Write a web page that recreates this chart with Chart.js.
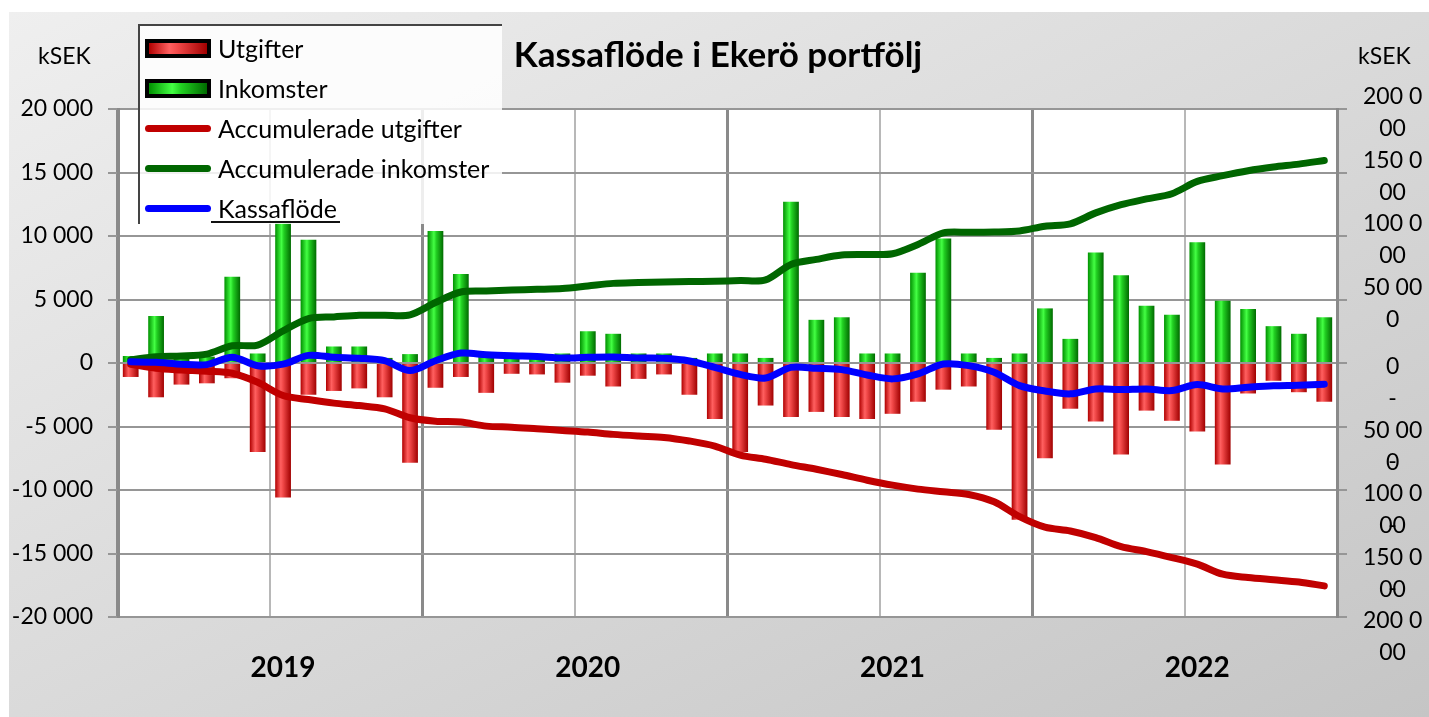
<!DOCTYPE html>
<html>
<head>
<meta charset="utf-8">
<script src="https://cdn.jsdelivr.net/npm/chart.js@4.4.1/dist/chart.umd.min.js"></script>
<style>
  html, body { margin: 0; padding: 0; background: #fff; }
  #wrap { position: relative; width: 1429px; height: 717px; overflow: hidden; font-family: Lato, sans-serif; }
  #bg { position: absolute; left: 9px; top: 12px; right: 0; bottom: 0; background: linear-gradient(to bottom right, #efefef, #c5c5c5); }
  #cashChart { position: absolute; left: 0; top: 0; }
  .txt { position: absolute; color: #000; font-size: 23px; line-height: 28px; white-space: nowrap; }
  #title { left: 718px; top: 33px; transform: translateX(-50%); font-weight: bold; font-size: 35px; line-height: 40px; }
  #legend { position: absolute; left: 138px; top: 24px; width: 362px; height: 198px; border-left: 2px solid #444; border-top: 2px solid #444; background: rgba(255,255,255,0.85); }
  .row { position: absolute; left: 5px; height: 40px; display: flex; align-items: center; }
  .sw { width: 66px; margin-right: 7px; box-sizing: border-box; flex: none; }
  .sw.bar { height: 19px; border: 4px solid #000; }
  .sw.line { height: 7px; border-radius: 4px; }
  .row span { font-size: 25px; }
  #uline { position: absolute; left: 211px; top: 221px; width: 129px; height: 2px; background: #111; }
</style>
</head>
<body>
<div id="wrap">
  <div id="bg"></div>
  <canvas id="cashChart" width="1429" height="717"></canvas>
  <div class="txt" id="title">Kassaflöde i Ekerö portfölj</div>
  <div class="txt" style="left:38px;top:41px;">kSEK</div>
  <div class="txt" style="left:1358px;top:41px;">kSEK</div>
  <div id="legend"></div>
  <div id="uline"></div>
</div>
<script>
const years = ['2019', '2020', '2021', '2022'];
const months = [];
years.forEach(y => {
  for (let m = 1; m <= 12; m++) months.push(y + '-' + String(m).padStart(2, '0'));
});

// kSEK per month
const utgifter = [
  -1100, -2700, -1700, -1600, -1200, -7000, -10600, -2500, -2200, -2000, -2700, -7850,
  -1950, -1100, -2350, -850, -900, -1550, -1000, -1850, -1250, -900, -2500, -4400,
  -7000, -3350, -4250, -3850, -4250, -4400, -4000, -3050, -2100, -1850, -5250, -12350,
  -7500, -3600, -4600, -7200, -3750, -4550, -5400, -8000, -2400, -1400, -2300, -3050
];
const inkomster = [
  550, 3700, 400, 500, 6800, 750, 11200, 9700, 1300, 1300, 400, 700,
  10400, 7000, 600, 700, 500, 750, 2500, 2300, 750, 750, 400, 750,
  750, 400, 12700, 3400, 3600, 750, 750, 7100, 9800, 750, 400, 750,
  4300, 1900, 8700, 6900, 4500, 3800, 9500, 4900, 4250, 2900, 2300, 3600
];
// right axis
const accUtgifter = [
  -1000, -4200, -5500, -6500, -8100, -15200, -25600, -28800, -31600, -33500, -36100, -43100,
  -45800, -46500, -49700, -50500, -51800, -53100, -54400, -56200, -57500, -58600, -61400, -65400,
  -72500, -75800, -80000, -83700, -87800, -92300, -96200, -99300, -101400, -103500, -109300, -121000,
  -129300, -132300, -137500, -144600, -148500, -153200, -158400, -166300, -168900, -170700, -172500, -175500
];
const accInkomster = [
  2500, 5000, 5500, 7000, 13600, 14100, 25300, 35000, 36300, 37600, 37600, 37900,
  47600, 55900, 56700, 57500, 58000, 58600, 60600, 62700, 63300, 63800, 64100, 64300,
  64900, 65400, 77600, 81600, 85000, 85400, 86000, 93300, 102500, 102900, 103100, 104000,
  107700, 109600, 118200, 124700, 129200, 133300, 143000, 147500, 151400, 154300, 156600, 159500
];
const kassaflode = [
  1000, 500, -1000, -1300, 4500, -2100, -900, 6000, 4500, 3700, 1800, -6000,
  1800, 7800, 6500, 5700, 5200, 3900, 4500, 4700, 3900, 3700, 1600, -3400,
  -9000, -11800, -3400, -4200, -5200, -9400, -12500, -8600, -800, -2100, -7300, -17800,
  -22000, -24300, -20400, -20900, -20400, -21700, -17000, -20400, -19100, -18000, -17500, -16700
];

const seriesNames = ['Utgifter', 'Inkomster', 'Accumulerade utgifter', 'Accumulerade inkomster', 'Kassaflöde'];
const seriesColors = ['#e02020', '#20c020', '#c00000', '#006600', '#0000ff'];

const leftTicks = [20000, 15000, 10000, 5000, 0, -5000, -10000, -15000, -20000];
const leftTickText = ['20 000', '15 000', '10 000', '5 000', '0', '-5 000', '-10 000', '-15 000', '-20 000'];
const rightTicks = [200000, 150000, 100000, 50000, 0, -50000, -100000, -150000, -200000];
const rightTickText = [
  ['200 0', '00'], ['150 0', '00'], ['100 0', '00'], ['50 00', '0'], '0',
  ['-', '50 00', '0'], ['-', '100 0', '00'], ['-', '150 0', '00'], ['-', '200 0', '00']
];

const BAR_PCT = 0.62;
const redStops = [[0, '#b00000'], [0.35, '#ff6060'], [0.5, '#f04848'], [1, '#a00000']];
const greenStops = [[0, '#009000'], [0.4, '#44ff44'], [0.55, '#22d022'], [1, '#006a00']];

function barGradient(c, stops) {
  const chart = c.chart;
  if (!chart.chartArea || c.dataIndex === undefined) return stops[1][1];
  const xs = chart.scales.x;
  const cx = xs.getPixelForValue(c.dataIndex);
  const w = xs.width / months.length * BAR_PCT;
  const g = chart.ctx.createLinearGradient(cx - w / 2, 0, cx + w / 2, 0);
  stops.forEach(s => g.addColorStop(s[0], s[1]));
  return g;
}

// legend
const legendEl = document.getElementById('legend');
seriesNames.forEach((name, i) => {
  const row = document.createElement('div');
  row.className = 'row';
  row.style.top = (4 + i * 40 - 2) + 'px';
  const sw = document.createElement('div');
  if (i < 2) {
    sw.className = 'sw bar';
    const st = i === 0 ? redStops : greenStops;
    sw.style.background = 'linear-gradient(to right,' + st.map(s => s[1] + ' ' + (s[0] * 100) + '%').join(',') + ')';
  } else {
    sw.className = 'sw line';
    sw.style.background = seriesColors[i];
  }
  const sp = document.createElement('span');
  sp.textContent = name;
  row.appendChild(sw);
  row.appendChild(sp);
  legendEl.appendChild(row);
});

const plotBg = {
  id: 'plotBg',
  beforeDraw(chart) {
    const a = chart.chartArea;
    chart.ctx.save();
    chart.ctx.fillStyle = '#ffffff';
    chart.ctx.fillRect(a.left, a.top, a.right - a.left, a.bottom - a.top);
    chart.ctx.restore();
  }
};

const lineBase = { type: 'line', yAxisID: 'y2', borderWidth: 7, pointRadius: 0, tension: 0.3, borderCapStyle: 'round', borderJoinStyle: 'round', fill: false };

new Chart(document.getElementById('cashChart'), {
  type: 'bar',
  data: {
    labels: months,
    datasets: [
      { ...lineBase, label: seriesNames[4], data: kassaflode, borderColor: seriesColors[4], order: 0 },
      { ...lineBase, label: seriesNames[3], data: accInkomster, borderColor: seriesColors[3], order: 1 },
      { ...lineBase, label: seriesNames[2], data: accUtgifter, borderColor: seriesColors[2], order: 2 },
      {
        type: 'bar', label: seriesNames[0], data: utgifter, yAxisID: 'y', grouped: false,
        categoryPercentage: 1, barPercentage: BAR_PCT, borderWidth: 0,
        backgroundColor: c => barGradient(c, redStops), order: 3
      },
      {
        type: 'bar', label: seriesNames[1], data: inkomster, yAxisID: 'y', grouped: false,
        categoryPercentage: 1, barPercentage: BAR_PCT, borderWidth: 0,
        backgroundColor: c => barGradient(c, greenStops), order: 4
      }
    ]
  },
  options: {
    responsive: false,
    animation: false,
    layout: { padding: { top: 109, left: 0, right: 0, bottom: 0 } },
    plugins: { legend: { display: false }, tooltip: { enabled: false } },
    scales: {
      x: {
        offset: true,
        grid: {
          offset: true,
          drawTicks: false,
          color: c => (c.index === undefined || c.index % 12 === 0) ? '#8a8a8a' : (c.index % 12 === 6 ? '#b8b8b8' : 'rgba(0,0,0,0)'),
          lineWidth: c => (c.index === undefined || c.index % 12 === 0) ? 3 : 2
        },
        border: { display: false },
        ticks: {
          autoSkip: false, maxRotation: 0, padding: 34, color: '#000',
          font: { family: 'Lato', size: 28, weight: 'bold' },
          callback: (v, i) => (i % 12 === 6 ? months[i].slice(0, 4) : '')
        },
        afterFit: s => { s.height = 100; }
      },
      y: {
        position: 'left', min: -20000, max: 20000,
        afterBuildTicks: s => { s.ticks = leftTicks.map(v => ({ value: v })); },
        ticks: {
          autoSkip: false, padding: 15, color: '#000', font: { family: 'Lato', size: 23 },
          callback: v => leftTickText[leftTicks.indexOf(v)]
        },
        grid: { color: '#969696', lineWidth: 2, tickLength: 10 },
        border: { color: '#8a8a8a', width: 3 },
        afterFit: s => { s.width = 118; }
      },
      y2: {
        position: 'right', min: -200000, max: 200000,
        afterBuildTicks: s => { s.ticks = rightTicks.map(v => ({ value: v })); },
        ticks: {
          autoSkip: false, padding: 16, crossAlign: 'center', labelOffset: 4, color: '#000',
          font: { family: 'Lato', size: 23, lineHeight: '32px' },
          callback: v => rightTickText[rightTicks.indexOf(v)]
        },
        grid: { drawOnChartArea: false, color: '#969696', lineWidth: 2, tickLength: 10 },
        border: { color: '#8a8a8a', width: 3 },
        afterFit: s => { s.width = 92; }
      }
    }
  },
  plugins: [plotBg]
});
</script>
</body>
</html>
